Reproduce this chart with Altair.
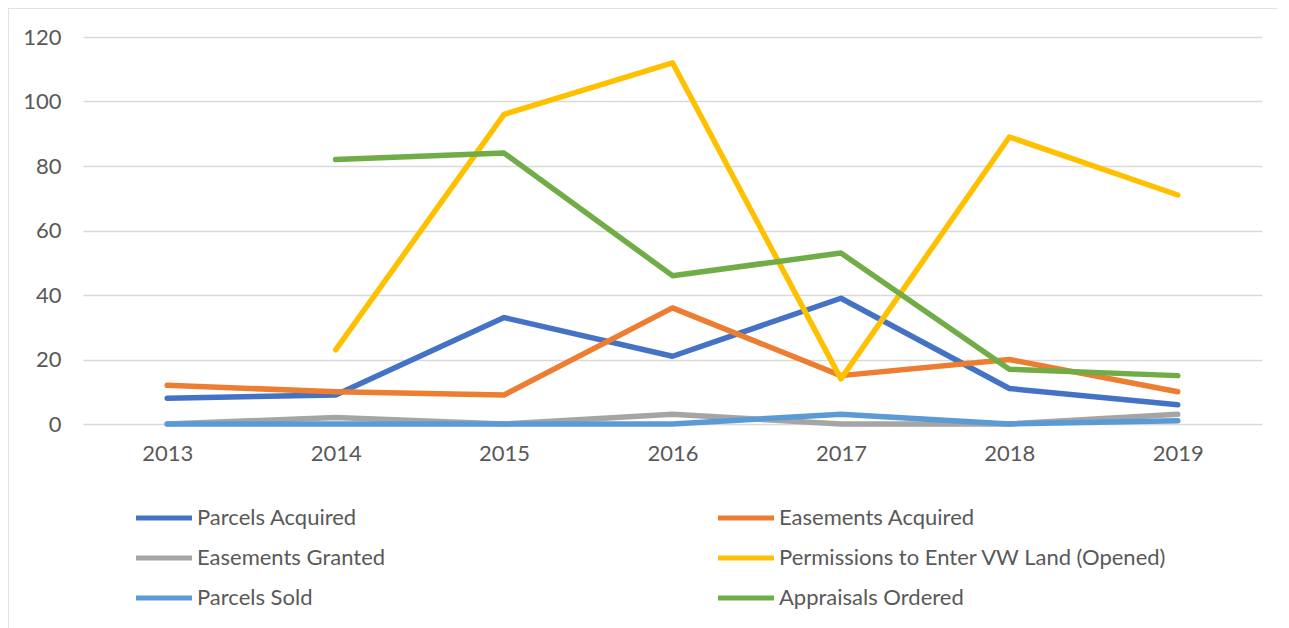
import altair as alt
import pandas as pd

years = ["2013", "2014", "2015", "2016", "2017", "2018", "2019"]
series_names = [
    "Parcels Acquired",
    "Easements Acquired",
    "Easements Granted",
    "Permissions to Enter VW Land (Opened)",
    "Parcels Sold",
    "Appraisals Ordered",
]
parcels_acquired = [8, 9, 33, 21, 39, 11, 6]
easements_acquired = [12, 10, 9, 36, 15, 20, 10]
easements_granted = [0, 2, 0, 3, 0, 0, 3]
permissions_opened = [None, 23, 96, 112, 14, 89, 71]
parcels_sold = [0, 0, 0, 0, 3, 0, 1]
appraisals_ordered = [None, 82, 84, 46, 53, 17, 15]
colors = ["#4472C4", "#ED7D31", "#A5A5A5", "#FFC000", "#5B9BD5", "#70AD47"]

all_values = [parcels_acquired, easements_acquired, easements_granted,
              permissions_opened, parcels_sold, appraisals_ordered]
rows = []
for name, vals in zip(series_names, all_values):
    for y, v in zip(years, vals):
        if v is not None:
            rows.append({"Year": y, "Series": name, "Value": v})
df = pd.DataFrame(rows)

FONT = "Lato"
TXT = "#595959"

lines = alt.Chart(df).mark_line(strokeWidth=5.5, strokeCap="round", strokeJoin="round").encode(
    x=alt.X("Year:O", sort=years, title=None,
            scale=alt.Scale(type="point", padding=0.5),
            axis=alt.Axis(labelAngle=0, labelFontSize=22, labelColor=TXT, labelFont=FONT,
                          domain=False, ticks=False, labelPadding=19, grid=False)),
    y=alt.Y("Value:Q", title=None,
            scale=alt.Scale(domain=[0, 120], nice=False),
            axis=alt.Axis(values=[0, 20, 40, 60, 80, 100, 120], labelFontSize=22,
                          labelColor=TXT, labelFont=FONT, domain=False, ticks=False,
                          labelPadding=22, gridColor="#D9D9D9", gridWidth=1.5)),
    color=alt.Color("Series:N", sort=series_names,
                    scale=alt.Scale(domain=series_names, range=colors),
                    legend=alt.Legend(title=None, orient="none", legendX=70, legendY=470,
                                      direction="horizontal",
                                      columns=2, columnPadding=322, rowPadding=18,
                                      symbolType="M-5.6,0H5.6", symbolSize=100,
                                      symbolStrokeWidth=5, labelOffset=22,
                                      labelFontSize=22, labelFont=FONT, labelColor=TXT,
                                      labelLimit=500)),
    order=alt.Order("Series:N"),
)

frame = alt.Chart(pd.DataFrame({"f": [0]})).mark_rect(
    fill="transparent", stroke="#D9D9D9", strokeWidth=1.5
).encode(x=alt.value(-75), x2=alt.value(1198), y=alt.value(-29), y2=alt.value(700))

chart = alt.layer(frame, lines).properties(
    width=1179, height=387,
    padding={"left": 75, "top": 29, "right": 15, "bottom": 215},
    autosize=alt.AutoSizeParams(type="none"),
    background="white",
).configure_view(stroke=None)

chart.save("out.html", embed_options={"renderer": "svg", "actions": False})
